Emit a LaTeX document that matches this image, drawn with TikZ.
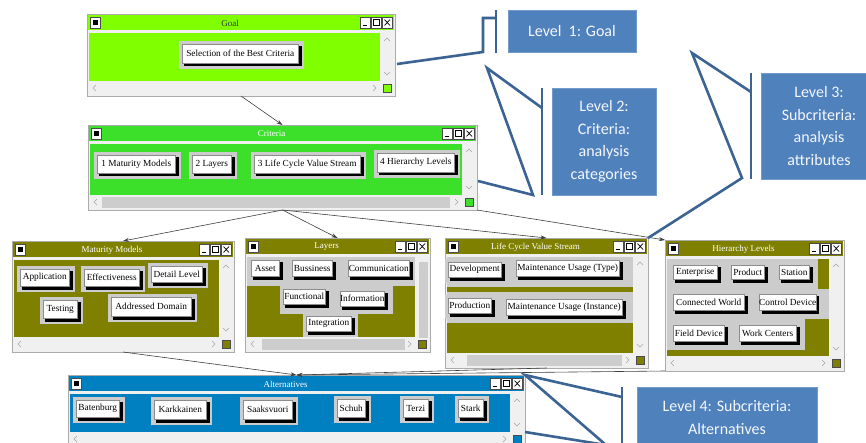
\documentclass[tikz,border=0pt]{standalone}
\usepackage{fontspec}
\setmainfont{Liberation Serif}
\newfontfamily\callfont{Carlito}
\usetikzlibrary{arrows.meta}
\definecolor{goalgreen}{HTML}{80FF00}
\definecolor{critgreen}{HTML}{3CE02A}
\definecolor{olivewin}{HTML}{808000}
\definecolor{altblue}{HTML}{0080C0}
\definecolor{winbg}{HTML}{F0F0F0}
\definecolor{winborder}{HTML}{ABABAB}
\definecolor{thumbgray}{HTML}{CDCDCD}
\definecolor{halogray}{HTML}{CCCCCC}
\definecolor{callfill}{HTML}{4F81BD}
\definecolor{callline}{HTML}{3B6494}
\tikzset{
 winframe/.style={draw=winborder, fill=winbg, line width=0.8pt, inner sep=0pt, outer sep=0pt},
 wintitle/.style={font=\fontsize{9}{10}\selectfont, inner sep=0pt},
 tbbtn/.style={draw=black!70, fill=white, line width=0.5pt},
 tbsym/.style={draw=black, line width=0.7pt},
 btnface/.style={draw=black!45, fill=white, line width=0.4pt, inner sep=0pt, outer sep=0pt, font=\fontsize{9.3}{10}\selectfont},
 btnhalo/.style={fill=halogray},
 sarrow/.style={draw=black!35, line width=0.6pt},
 thumb/.style={fill=thumbgray},
 conn/.style={draw=black!75, line width=0.6pt, -{Stealth[length=6pt,width=4pt]}},
 calloutline/.style={draw=callline, line width=2.6pt, line join=miter},
 calloutbox/.style={fill=callfill, draw=callfill!80!white, line width=0.5pt, text=white!94!callfill, font=\callfont\fontsize{16}{22.5}\selectfont, align=center, inner sep=0pt},
}
% #1 name #2 x1 #3 y1 #4 x2 #5 y2 #6 colour #7 title #8 title colour
\newcommand\mkwin[8]{%
 \node[winframe, minimum width={(#4-#2)*1pt}, minimum height={(#5-#3)*1pt}] (#1) at ({(#2+#4)/2},{(#3+#5)/2}) {};
 \fill[#6] (#2+1,#3+1) rectangle (#4-1,#3+16);
 \fill[#6] (#2+2,#3+19) rectangle (#4-15,#5-15);
 \draw[tbbtn] (#2+3,#3+3) rectangle (#2+13,#3+14);
 \fill[black] (#2+5.5,#3+6) rectangle (#2+10.5,#3+11);
 \draw[tbbtn] (#4-35,#3+3) rectangle (#4-24.5,#3+14);
 \draw[tbsym] (#4-32,#3+11.5) -- (#4-28,#3+11.5);
 \draw[tbbtn] (#4-24,#3+3) rectangle (#4-13.5,#3+14);
 \draw[tbsym] (#4-21.5,#3+5.5) rectangle (#4-16,#3+11.5);
 \draw[tbbtn] (#4-13,#3+3) rectangle (#4-2.5,#3+14);
 \draw[tbsym] (#4-10.5,#3+5.5) -- (#4-5,#3+11.5) (#4-10.5,#3+11.5) -- (#4-5,#3+5.5);
 \node[wintitle, text=#8] (#1-t) at ({(#2+#4)/2-11},{#3+9}) {#7};
 \draw[sarrow] (#4-11,#3+27) -- (#4-8,#3+24) -- (#4-5,#3+27);
 \draw[sarrow] (#4-11,#5-24) -- (#4-8,#5-21) -- (#4-5,#5-24);
 \draw[sarrow] (#2+9,#5-11) -- (#2+6,#5-8) -- (#2+9,#5-5);
 \draw[sarrow] (#4-22,#5-11) -- (#4-19,#5-8) -- (#4-22,#5-5);
 \draw[draw=black!70, fill=#6] (#4-12,#5-12) rectangle (#4-4,#5-4);
}
% #1 name #2 x1 #3 y1 #4 x2 #5 y2 #6 text
\newcommand\mkbtn[6]{%
 \fill[btnhalo] (#2,#3) rectangle (#4,#5);
 \fill[black] (#2+5,#3+5) rectangle (#4-2.5,#5-2.5);
 \node[btnface, minimum width={(#4-#2-8.5)*1pt}, minimum height={(#5-#3-8.5)*1pt}] (#1) at ({(#2+#4)/2-1.25},{(#3+#5)/2-1.25}) {#6};
}
\begin{document}
\begin{tikzpicture}[x=1pt,y=-1pt]
\useasboundingbox (0,0) rectangle (866,443);
\clip (0,0) rectangle (866,443);
\fill[white] (0,0) rectangle (866,443);

% Goal
\mkwin{goal}{87}{14}{395}{96}{goalgreen}{Goal}{black!80}
\mkbtn{bsel}{179}{41}{304}{69}{Selection of the Best Criteria}

% Criteria
\mkwin{crit}{88}{125}{477}{210}{critgreen}{Criteria}{white}
\fill[thumb] (102,197) rectangle (450,208);
\mkbtn{c1}{94}{152}{181}{179}{1 Maturity Models}
\mkbtn{c2}{189}{152}{237}{179}{2 Layers}
\mkbtn{c3}{251}{152}{366}{179}{3 Life Cycle Value Stream}
\mkbtn{c4}{374}{150}{460}{178}{4 Hierarchy Levels}

% Maturity Models
\mkwin{mat}{12}{241}{234}{352}{olivewin}{Maturity Models}{white}
\mkbtn{m1}{17}{266}{75}{292}{Application}
\mkbtn{m2}{81}{266}{145}{292}{Effectiveness}
\mkbtn{m3}{148}{263}{208}{288}{Detail Level}
\mkbtn{m4}{40}{297}{83}{324}{Testing}
\mkbtn{m5}{108}{294}{197}{322}{Addressed Domain}

% Layers
\mkwin{lay}{245}{238}{430}{352}{olivewin}{Layers}{white}
\fill[thumb] (419,262) rectangle (428,338);
\fill[thumb] (262,339) rectangle (405,350);
\fill[btnhalo] (247,257) rectangle (415,286);
\fill[btnhalo] (280,286) rectangle (393,314);
\fill[btnhalo] (303,314) rectangle (358,337);
\mkbtn{y1}{248}{257}{285}{282}{Asset}
\mkbtn{y2}{289}{257}{338}{282}{Bussiness}
\mkbtn{y3}{345}{257}{415}{282}{Communication}
\mkbtn{y4}{280}{286}{331}{310}{Functional}
\mkbtn{y5}{337}{288}{390}{312}{Information}
\mkbtn{y6}{303}{313}{357}{337}{Integration}

% Life Cycle Value Stream
\mkwin{life}{445}{238}{648}{368}{olivewin}{Life Cycle Value Stream}{white}
\fill[thumb] (467,355) rectangle (622,366);
\fill[btnhalo] (447,257) rectangle (633,287);
\fill[btnhalo] (447,292) rectangle (633,323);
\mkbtn{v1}{445}{259}{507}{283}{Development}
\mkbtn{v2}{513}{257}{625}{282}{Maintenance Usage (Type)}
\mkbtn{v3}{445}{295}{497}{319}{Production}
\mkbtn{v4}{503}{296}{628}{321}{Maintenance Usage (Instance)}

% Hierarchy Levels
\mkwin{hier}{665}{240}{844}{371}{olivewin}{Hierarchy Levels}{white}
\fill[btnhalo] (667,259) rectangle (818,290);
\fill[btnhalo] (667,289) rectangle (829,319);
\fill[btnhalo] (667,318) rectangle (805,350);
\mkbtn{h1}{670}{262}{723}{285}{Enterprise}
\mkbtn{h2}{728}{262}{770}{285}{Product}
\mkbtn{h3}{776}{262}{815}{285}{Station}
\mkbtn{h4}{670}{291}{750}{316}{Connected World}
\mkbtn{h5}{757}{291}{821}{316}{Control Device}
\mkbtn{h6}{670}{322}{730}{347}{Field Device}
\mkbtn{h7}{736}{322}{802}{347}{Work Centers}

% Alternatives
\mkwin{alt}{68}{375}{525}{447}{altblue}{Alternatives}{white}
\mkbtn{a1}{73}{397}{125}{423}{Batenburg}
\mkbtn{a2}{151}{397}{212}{425}{Karkkainen}
\mkbtn{a3}{240}{397}{298}{425}{Saaksvuori}
\mkbtn{a4}{334}{396}{371}{423}{Schuh}
\mkbtn{a5}{400}{396}{434}{423}{Terzi}
\mkbtn{a6}{455}{396}{489}{423}{Stark}

% connectors
\draw[conn] (goal.south) -- (crit.north);
\draw[conn] (crit.south) -- (mat.north);
\draw[conn] (crit.south) -- (lay.north);
\draw[conn] (crit.south) -- (life.north);
\draw[conn] (crit.south east) -- (hier.north west);
\draw[conn] (mat.south) -- (alt.north);
\draw[conn] (life.south) -- (alt.north);
\draw[conn] (hier.south west) -- (alt.north);

% callouts
\node[calloutbox, minimum width=128pt, minimum height=42pt] (l1) at (572,31) {Level~ 1: Goal};
\node[calloutbox, minimum width=104pt, minimum height=107pt] (l2) at (604,141.5) {Level 2:\\Criteria:\\analysis\\categories};
\node[calloutbox, minimum width=116pt, minimum height=106pt] (l3) at (819,126) {Level 3:\\Subcriteria:\\analysis\\attributes};
\node[calloutbox, minimum width=180pt, minimum height=61pt] (l4) at (727,417.5) {Level 4: Subcriteria:\\Alternatives};

\coordinate (p1a) at (397,64);
\coordinate (p1b) at (483,52);
\coordinate (p1c) at (483,18);
\coordinate (p1d) at (496,18);
\draw[calloutline] (p1a) -- (p1b) -- (p1c) -- (p1d);
\draw[calloutline] (496,10) -- (496,53);

\coordinate (p2a) at (478,181);
\coordinate (p2b) at (533,195);
\coordinate (p2c) at (487,68);
\coordinate (p2d) at (542,108);
\draw[calloutline] (p2a) -- (p2b) -- (p2c) -- (p2d);
\draw[calloutline] (542,88) -- (542,195);

\coordinate (p3b) at (742,178);
\coordinate (p3c) at (692,53);
\coordinate (p3d) at (751,92);
\draw[calloutline] (life.north east) -- (p3b) -- (p3c) -- (p3d);
\draw[calloutline] (751,73) -- (751,179);

\coordinate (p4a) at (525,432);
\coordinate (p4b) at (606,445);
\coordinate (p4d) at (622,397);
\draw[calloutline] (p4a) -- (p4b) -- (alt.north east) -- (p4d);
\draw[calloutline] (622,387) -- (622,450);
\end{tikzpicture}
\end{document}
